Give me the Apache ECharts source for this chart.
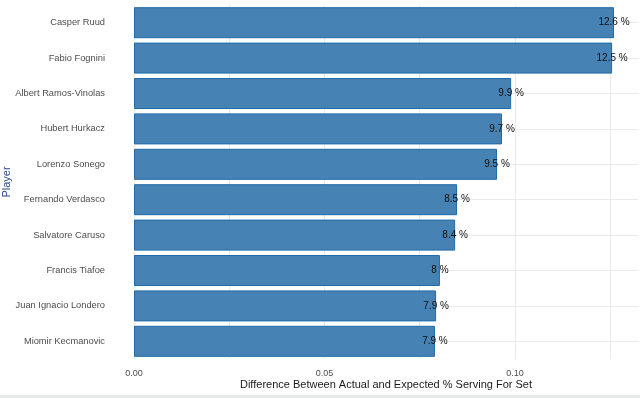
<!DOCTYPE html>
<html>
<head>
<meta charset="utf-8">
<script src="https://cdn.jsdelivr.net/npm/echarts@6/dist/echarts.min.js"></script>
<style>
  html, body { margin: 0; padding: 0; background: #fff; }
  #main { width: 640px; height: 398px; }
  .strip { position: absolute; left: 0; top: 395px; width: 640px; height: 3px; background: #e6ebea; }
</style>
</head>
<body>
<div id="main"></div>
<div class="strip"></div>
<script>
// players, bottom to top as the axis draws them
const players = ['Miomir Kecmanovic', 'Juan Ignacio Londero', 'Francis Tiafoe', 'Salvatore Caruso',
  'Fernando Verdasco', 'Lorenzo Sonego', 'Hubert Hurkacz', 'Albert Ramos-Vinolas', 'Fabio Fognini', 'Casper Ruud'];
// difference between actual and expected
const diffs = [0.0790, 0.0793, 0.0803, 0.0843, 0.0848, 0.0953, 0.0966, 0.0990, 0.1255, 0.1260];
// printed labels
const labels = ['7.9', '7.9', '8', '8.4', '8.5', '9.5', '9.7', '9.9', '12.5', '12.6'];

const chart = echarts.init(document.getElementById('main'));

chart.setOption({
  animation: false,
  grid: { left: 134, right: 2, top: 5, height: 354, outerBoundsMode: 'none', containLabel: false },
  xAxis: {
    type: 'value',
    min: 0,
    max: 0.1323,
    interval: 0.025,
    name: 'Difference Between Actual and Expected % Serving For Set',
    nameLocation: 'middle',
    nameGap: 20,
    nameMoveOverlap: false,
    nameTextStyle: { color: '#1a1a1a', fontSize: 11, fontFamily: 'Liberation Sans' },
    axisLine: { show: false },
    axisTick: { show: false },
    axisLabel: {
      color: '#4d4d4d', fontSize: 9, fontFamily: 'Liberation Sans', margin: 10,
      formatter: v => (Math.abs(v / 0.05 - Math.round(v / 0.05)) < 1e-6 ? v.toFixed(2) : '')
    },
    splitLine: { show: true, showMaxLine: false, lineStyle: { color: '#ebebeb', width: 1 } }
  },
  yAxis: {
    type: 'category',
    data: players,
    name: 'Player',
    nameLocation: 'middle',
    nameGap: 122,
    nameMoveOverlap: false,
    nameRotate: 90,
    nameTextStyle: { color: '#2e4a86', fontSize: 11, fontFamily: 'Liberation Sans' },
    axisLine: { show: false },
    axisTick: { show: false },
    axisLabel: { color: '#4d4d4d', fontSize: 9.3, fontFamily: 'Liberation Sans', margin: 29 },
    splitLine: { show: true, alignWithLabel: true, lineStyle: { color: '#ebebeb', width: 1 } }
  },
  series: [{
    type: 'bar',
    data: diffs,
    barWidth: 31,
    itemStyle: { color: '#4682b4', borderColor: '#1f6aa8', borderWidth: 1 },
    label: {
      show: true,
      position: ['100%', '50%'],
      align: 'center',
      verticalAlign: 'middle',
      color: '#111',
      fontSize: 10,
      fontFamily: 'Liberation Sans',
      formatter: p => labels[p.dataIndex] + ' %'
    }
  }]
});
</script>
</body>
</html>
